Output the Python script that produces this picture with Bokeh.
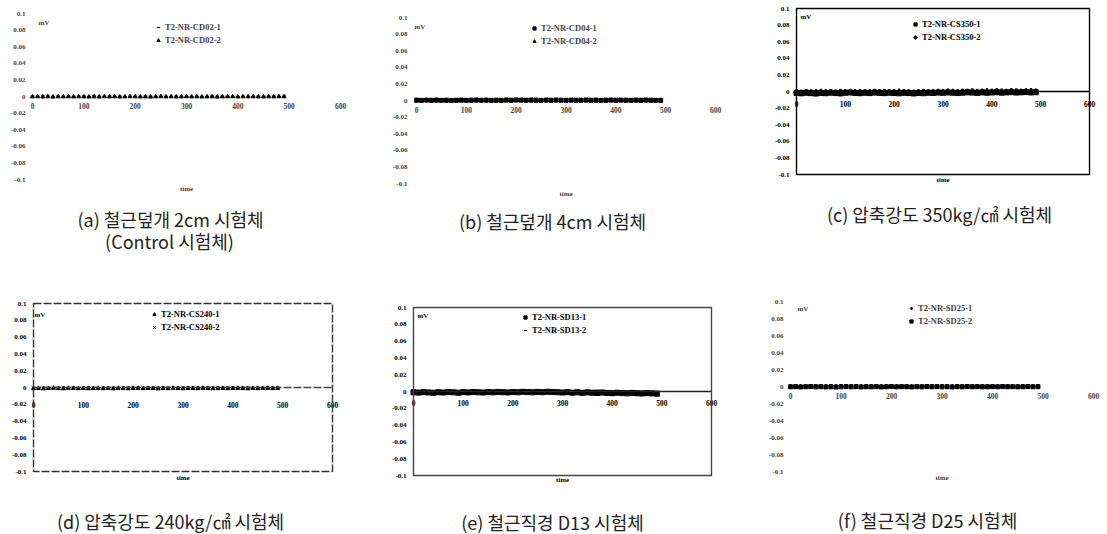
from bokeh.plotting import figure
from bokeh.layouts import column, row
from bokeh.models import FixedTicker, Label, BoxAnnotation
from bokeh.embed import file_html
from bokeh.resources import INLINE

# ---------------- data ----------------
TIME = [0, 10, 20, 30, 40, 50, 60, 70, 80, 90,
        100, 110, 120, 130, 140, 150, 160, 170, 180, 190,
        200, 210, 220, 230, 240, 250, 260, 270, 280, 290,
        300, 310, 320, 330, 340, 350, 360, 370, 380, 390,
        400, 410, 420, 430, 440, 450, 460, 470, 480, 490]

Y_TICKS = [-0.1, -0.08, -0.06, -0.04, -0.02, 0, 0.02, 0.04, 0.06, 0.08, 0.1]
Y_TICK_LABELS = ["-0.1", "-0.08", "-0.06", "-0.04", "-0.02", "0",
                 "0.02", "0.04", "0.06", "0.08", "0.1"]
X_TICKS = [0, 100, 200, 300, 400, 500, 600]
X_TICK_LABELS = ["0", "100", "200", "300", "400", "500", "600"]

CD02_1 = [0.0006, 0.0004, 0.0007, 0.0005, 0.0003, 0.0006, 0.0004, 0.0005, 0.0002, 0.0004,
          0.0005, 0.0003, 0.0006, 0.0004, 0.0002, 0.0005, 0.0003, 0.0004, 0.0001, 0.0003,
          0.0004, 0.0002, 0.0005, 0.0003, 0.0001, 0.0004, 0.0002, 0.0003, 0.0005, 0.0002,
          0.0003, 0.0001, 0.0004, 0.0002, 0.0003, 0.0005, 0.0002, 0.0004, 0.0001, 0.0003,
          0.0002, 0.0004, 0.0003, 0.0001, 0.0004, 0.0002, 0.0003, 0.0005, 0.0002, 0.0004]
CD02_2 = [-0.0003, -0.0001, -0.0004, -0.0002, -0.0005, -0.0002, -0.0003, -0.0001, -0.0004, -0.0002,
          -0.0003, -0.0005, -0.0002, -0.0004, -0.0001, -0.0003, -0.0002, -0.0004, -0.0003, -0.0001,
          -0.0002, -0.0004, -0.0003, -0.0005, -0.0002, -0.0001, -0.0003, -0.0002, -0.0004, -0.0003,
          -0.0001, -0.0003, -0.0002, -0.0004, -0.0003, -0.0002, -0.0005, -0.0003, -0.0001, -0.0002,
          -0.0004, -0.0002, -0.0003, -0.0001, -0.0003, -0.0004, -0.0002, -0.0003, -0.0001, -0.0002]

CD04_1 = [0.0004, 0.0002, 0.0005, 0.0003, 0.0006, 0.0002, 0.0004, 0.0001, 0.0003, 0.0005,
          0.0002, 0.0004, 0.0006, 0.0003, 0.0005, 0.0002, 0.0004, 0.0003, 0.0006, 0.0004,
          0.0007, 0.0005, 0.0003, 0.0006, 0.0004, 0.0002, 0.0005, 0.0003, 0.0006, 0.0004,
          0.0002, 0.0005, 0.0003, 0.0004, 0.0006, 0.0003, 0.0005, 0.0002, 0.0004, 0.0006,
          0.0003, 0.0005, 0.0004, 0.0002, 0.0005, 0.0003, 0.0006, 0.0004, 0.0002, 0.0003]
CD04_2 = [-0.0002, -0.0004, -0.0001, -0.0003, -0.0005, -0.0002, -0.0004, -0.0003, -0.0001, -0.0004,
          -0.0002, -0.0005, -0.0003, -0.0001, -0.0004, -0.0002, -0.0003, -0.0005, -0.0002, -0.0004,
          -0.0001, -0.0003, -0.0002, -0.0004, -0.0005, -0.0003, -0.0001, -0.0004, -0.0002, -0.0003,
          -0.0005, -0.0002, -0.0004, -0.0001, -0.0003, -0.0002, -0.0004, -0.0003, -0.0005, -0.0002,
          -0.0003, -0.0001, -0.0004, -0.0002, -0.0003, -0.0005, -0.0002, -0.0004, -0.0001, -0.0003]

CS350_1 = [-0.0018, -0.0022, -0.0015, -0.0020, -0.0025, -0.0017, -0.0021, -0.0014, -0.0019, -0.0023,
           -0.0016, -0.0012, -0.0018, -0.0021, -0.0015, -0.0019, -0.0013, -0.0017, -0.0020, -0.0014,
           -0.0018, -0.0022, -0.0016, -0.0019, -0.0024, -0.0017, -0.0021, -0.0015, -0.0018, -0.0013,
           -0.0016, -0.0012, -0.0015, -0.0019, -0.0014, -0.0010, -0.0013, -0.0017, -0.0011, -0.0015,
           -0.0012, -0.0009, -0.0014, -0.0011, -0.0008, -0.0013, -0.0010, -0.0007, -0.0012, -0.0009]
CS350_2 = [-0.0008, -0.0012, -0.0005, -0.0010, -0.0007, -0.0003, -0.0009, -0.0006, -0.0011, -0.0004,
           -0.0007, -0.0002, -0.0008, -0.0005, -0.0010, -0.0006, -0.0003, -0.0007, -0.0004, -0.0009,
           -0.0005, -0.0001, -0.0006, -0.0008, -0.0012, -0.0007, -0.0004, -0.0009, -0.0005, -0.0002,
           -0.0004, 0.0001, -0.0003, -0.0006, 0.0000, -0.0002, 0.0002, -0.0004, -0.0001, 0.0003,
           -0.0002, 0.0004, 0.0001, -0.0003, 0.0005, 0.0002, -0.0001, 0.0003, 0.0006, 0.0001]

CS240_1 = [-0.0012, -0.0009, -0.0014, -0.0010, -0.0007, -0.0011, -0.0013, -0.0008, -0.0010, -0.0012,
           -0.0009, -0.0013, -0.0011, -0.0008, -0.0012, -0.0010, -0.0014, -0.0009, -0.0011, -0.0013,
           -0.0010, -0.0008, -0.0012, -0.0009, -0.0011, -0.0014, -0.0010, -0.0012, -0.0008, -0.0011,
           -0.0013, -0.0009, -0.0011, -0.0012, -0.0008, -0.0010, -0.0013, -0.0011, -0.0009, -0.0012,
           -0.0010, -0.0008, -0.0011, -0.0013, -0.0009, -0.0012, -0.0010, -0.0008, -0.0011, -0.0009]
CS240_2 = [-0.0004, -0.0006, -0.0003, -0.0005, -0.0007, -0.0004, -0.0002, -0.0005, -0.0003, -0.0006,
           -0.0004, -0.0002, -0.0005, -0.0007, -0.0003, -0.0005, -0.0004, -0.0006, -0.0002, -0.0004,
           -0.0005, -0.0003, -0.0006, -0.0004, -0.0002, -0.0005, -0.0003, -0.0006, -0.0004, -0.0005,
           -0.0003, -0.0001, -0.0004, -0.0002, -0.0005, -0.0003, -0.0004, -0.0002, -0.0005, -0.0003,
           -0.0001, -0.0004, -0.0002, -0.0003, -0.0005, -0.0002, -0.0004, -0.0001, -0.0003, -0.0002]

SD13_1 = [-0.0010, -0.0013, -0.0008, -0.0011, -0.0015, -0.0009, -0.0012, -0.0007, -0.0010, -0.0014,
          -0.0008, -0.0011, -0.0006, -0.0009, -0.0012, -0.0007, -0.0010, -0.0005, -0.0008, -0.0011,
          -0.0006, -0.0009, -0.0004, -0.0007, -0.0010, -0.0005, -0.0008, -0.0003, -0.0006, -0.0009,
          -0.0012, -0.0008, -0.0014, -0.0010, -0.0016, -0.0011, -0.0015, -0.0018, -0.0013, -0.0017,
          -0.0020, -0.0015, -0.0019, -0.0022, -0.0017, -0.0021, -0.0024, -0.0019, -0.0023, -0.0026]
SD13_2 = [0.0002, -0.0001, 0.0004, 0.0001, -0.0002, 0.0003, 0.0000, 0.0005, 0.0002, -0.0001,
          0.0004, 0.0006, 0.0003, 0.0007, 0.0004, 0.0008, 0.0005, 0.0009, 0.0006, 0.0010,
          0.0012, 0.0008, 0.0013, 0.0010, 0.0014, 0.0011, 0.0015, 0.0012, 0.0016, 0.0013,
          0.0010, 0.0014, 0.0011, 0.0015, 0.0012, 0.0016, 0.0013, 0.0017, 0.0014, 0.0011,
          0.0008, 0.0012, 0.0009, 0.0006, 0.0010, 0.0007, 0.0004, 0.0008, 0.0005, 0.0002]

SD25_1 = [0.0005, 0.0003, 0.0006, 0.0004, 0.0002, 0.0005, 0.0003, 0.0006, 0.0004, 0.0002,
          0.0004, 0.0006, 0.0003, 0.0005, 0.0002, 0.0004, 0.0006, 0.0003, 0.0005, 0.0004,
          0.0002, 0.0004, 0.0003, 0.0005, 0.0002, 0.0004, 0.0003, 0.0001, 0.0004, 0.0002,
          0.0003, 0.0005, 0.0002, 0.0004, 0.0001, 0.0003, 0.0005, 0.0002, 0.0004, 0.0003,
          0.0001, 0.0003, 0.0002, 0.0004, 0.0001, 0.0003, 0.0002, 0.0004, 0.0001, 0.0002]
SD25_2 = [-0.0004, -0.0002, -0.0005, -0.0003, -0.0001, -0.0004, -0.0002, -0.0005, -0.0003, -0.0006,
          -0.0003, -0.0001, -0.0004, -0.0002, -0.0005, -0.0003, -0.0004, -0.0002, -0.0005, -0.0003,
          -0.0001, -0.0004, -0.0002, -0.0003, -0.0005, -0.0002, -0.0004, -0.0001, -0.0003, -0.0002,
          -0.0004, -0.0003, -0.0005, -0.0002, -0.0004, -0.0001, -0.0003, -0.0002, -0.0004, -0.0003,
          -0.0002, -0.0004, -0.0001, -0.0003, -0.0002, -0.0004, -0.0003, -0.0001, -0.0003, -0.0002]

PANELS = [
    dict(names=["T2-NR-CD02-1", "T2-NR-CD02-2"], series=[CD02_1, CD02_2],
         markers=["dash", "triangle"],
         captions=["(a) 철근덮개 2cm 시험체", "(Control 시험체)"]),
    dict(names=["T2-NR-CD04-1", "T2-NR-CD04-2"], series=[CD04_1, CD04_2],
         markers=["square", "triangle"],
         captions=["(b) 철근덮개 4cm 시험체"]),
    dict(names=["T2-NR-CS350-1", "T2-NR-CS350-2"], series=[CS350_1, CS350_2],
         markers=["square", "plus"],
         captions=["(c) 압축강도 350kg/㎠ 시험체"]),
    dict(names=["T2-NR-CS240-1", "T2-NR-CS240-2"], series=[CS240_1, CS240_2],
         markers=["triangle", "x"],
         captions=["(d) 압축강도 240kg/㎠ 시험체"]),
    dict(names=["T2-NR-SD13-1", "T2-NR-SD13-2"], series=[SD13_1, SD13_2],
         markers=["square", "dash"],
         captions=["(e) 철근직경 D13 시험체"]),
    dict(names=["T2-NR-SD25-1", "T2-NR-SD25-2"], series=[SD25_1, SD25_2],
         markers=["diamond", "square"],
         captions=["(f) 철근직경 D25 시험체"]),
]

# ---------------- layout / style ----------------
PAD = 7                      # px of room left and right of the data area
TOP = 2                      # common top border of every figure
ROW_Y = [0, 254]             # page y of each row
ROW_H = [254, 280]
# cell: (x0, width, row index); box: page box of the data area (left, width, top, height)
# leg: legend glyph left / first item centre (page); cap: caption centre x, dy below box
GEOM = [
    dict(cell=(0, 378, 0), box=(32, 308, 13, 166), leg=(154, 27), mv=(6, -9), time=9,
         cap=[(138, 39), (137, 61)], xs=6, ys=6, frame=None, axis=None, ink="#444444", msize=4),
    dict(cell=(378, 370, 0), box=(416, 299, 17, 166), leg=(530, 28), mv=(-2, -9), time=10,
         cap=[(136, 37)], xs=6, ys=9, frame=None, axis=None, ink="#444444", msize=4),
    dict(cell=(748, 357, 0), box=(796, 293, 8, 166), leg=(911, 24), mv=(4, -8), time=5,
         cap=[(143, 39)], xs=9, ys=6, frame=("black", None), axis=("black", None), ink="black",
         msize=5),
    dict(cell=(0, 378, 1), box=(33, 299, 303, 168), leg=(150, 314), mv=(1, -11), time=6,
         cap=[(137, 49)], xs=14, ys=6, frame=("#333333", "8 2"), axis=("#444444", "8 2"),
         ink="black", msize=4),
    dict(cell=(378, 370, 1), box=(413, 298, 307, 168), leg=(521, 317), mv=(4, -8), time=4,
         cap=[(139, 46)], xs=8, ys=4, frame=("#444444", None), axis=("#222222", None), ink="black",
         msize=5),
    dict(cell=(748, 357, 1), box=(790, 303, 301, 170), leg=(907, 308), mv=(7, -7), time=6,
         cap=[(137, 48)], xs=6, ys=5, frame=None, axis=None, ink="#444444", msize=4),
]

SERIF = "Liberation Serif"
KR = "Noto Sans CJK KR"
ITEM_H = 10
ITEM_GAP = 3


def make_panel(spec, g):
    cx, cw, ri = g["cell"]
    bl, bw, bt, bh = g["box"]
    row_y, row_h = ROW_Y[ri], ROW_H[ri]
    x0, x1 = X_TICKS[0], X_TICKS[-1]
    y0, y1 = Y_TICKS[0], Y_TICKS[-1]
    xpad = PAD * (x1 - x0) / bw
    top_extra = bt - (row_y + TOP)
    ext = row_y + row_h - (bt + bh)
    fw = bw + 2 * PAD
    fh = row_h - TOP
    left = bl - cx - PAD
    p = figure(frame_width=fw, frame_height=fh,
               min_border_left=left, min_border_right=cw - left - fw,
               min_border_top=TOP, min_border_bottom=0,
               x_range=(x0 - xpad, x1 + xpad),
               y_range=(y0 - (y1 - y0) * ext / bh, y1 + (y1 - y0) * top_extra / bh),
               output_backend="svg", toolbar_location=None)
    p.background_fill_color = None
    p.border_fill_color = "white"
    p.outline_line_color = None
    p.xgrid.visible = False
    p.ygrid.visible = False

    if g["frame"] is not None:
        p.add_layout(BoxAnnotation(left=x0, right=x1, bottom=y0, top=y1,
                                   fill_color=None, fill_alpha=0,
                                   line_color=g["frame"][0], line_alpha=1.0,
                                   line_width=1.4,
                                   line_dash=g["frame"][1] or "solid"))

    # x axis drawn through zero
    xa = p.xaxis[0]
    xa.fixed_location = 0
    xa.bounds = (x0, x1)
    xa.ticker = FixedTicker(ticks=X_TICKS)
    xa.major_label_overrides = dict(zip(X_TICKS, X_TICK_LABELS))
    xa.major_tick_in = 0
    xa.major_tick_out = 0
    xa.minor_tick_line_color = None
    xa.major_label_standoff = g["xs"]
    xa.major_label_text_font = SERIF
    xa.major_label_text_font_style = "bold"
    xa.major_label_text_font_size = "7.5px"
    xa.major_label_text_color = g["ink"]
    if g["axis"] is None:
        xa.axis_line_color = None
    else:
        xa.axis_line_color = g["axis"][0]
        xa.axis_line_width = 1.4
        if g["axis"][1]:
            xa.axis_line_dash = g["axis"][1]

    ya = p.yaxis[0]
    ya.ticker = FixedTicker(ticks=Y_TICKS)
    ya.major_label_overrides = dict(zip(Y_TICKS, Y_TICK_LABELS))
    ya.axis_line_color = None
    ya.major_tick_in = 0
    ya.major_tick_out = 0
    ya.minor_tick_line_color = None
    ya.major_label_standoff = max(g["ys"] - PAD, 0)
    ya.major_label_text_font = SERIF
    ya.major_label_text_font_style = "bold"
    ya.major_label_text_font_size = "7px"
    ya.major_label_text_color = g["ink"]

    for name, ys, mk in zip(spec["names"], spec["series"], spec["markers"]):
        p.scatter(TIME, ys, marker=mk, size=g["msize"], color="black", line_width=1,
                  legend_label=name)

    # legend placed from the frame's bottom-left corner
    lgx, lgy = g["leg"]
    leg_h = 2 * ITEM_H + ITEM_GAP
    leg_top = lgy - ITEM_H / 2
    lg = p.legend[0]
    lg.location = (lgx - (bl - PAD), (row_y + row_h) - (leg_top + leg_h))
    lg.border_line_color = None
    lg.background_fill_color = None
    lg.padding = 0
    lg.margin = 0
    lg.spacing = ITEM_GAP
    lg.glyph_width = 8
    lg.glyph_height = ITEM_H
    lg.label_height = ITEM_H
    lg.label_standoff = 3
    lg.label_text_font = SERIF
    lg.label_text_font_style = "bold"
    lg.label_text_font_size = "8.5px"
    lg.label_text_color = g["ink"]

    p.add_layout(Label(x=x0, y=y1, x_offset=g["mv"][0], y_offset=g["mv"][1], text="mV",
                       text_font=SERIF, text_font_style="bold", text_font_size="7px",
                       text_baseline="middle", text_color=g["ink"]))
    p.add_layout(Label(x=(x0 + x1) / 2, y=y0, y_offset=-g["time"], text="time",
                       text_font=SERIF, text_font_style="bold", text_font_size="7px",
                       text_align="center", text_baseline="middle", text_color=g["ink"]))
    for text, (dx, dy) in zip(spec["captions"], g["cap"]):
        p.add_layout(Label(x=x0, y=y0, x_offset=dx, y_offset=-dy, text=text,
                           text_font=KR, text_font_size="18px",
                           text_align="center", text_baseline="middle",
                           text_color="#222222"))
    return p


figs = [make_panel(s, g) for s, g in zip(PANELS, GEOM)]
layout = column(row(*figs[:3]), row(*figs[3:]))

with open("out.html", "w") as f:
    f.write(file_html(layout, INLINE))
